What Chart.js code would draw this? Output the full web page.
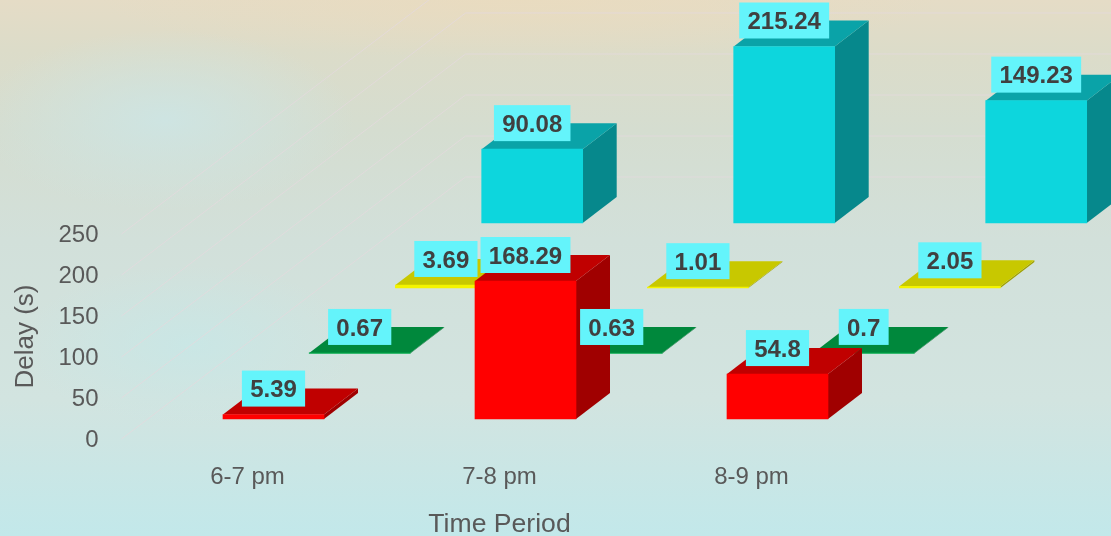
<!DOCTYPE html>
<html>
<head>
<meta charset="utf-8">
<title>Delay by time period</title>
<script src="https://cdn.jsdelivr.net/npm/chart.js@4"></script>
<style>
    html, body {
        margin: 0;
        padding: 0;
        overflow: hidden;
    }
    body {
        width: 1111px;
        height: 536px;
        background:
            radial-gradient(ellipse 190px 90px at 165px 120px, rgba(205, 229, 228, 0.9), rgba(205, 229, 228, 0)),
            radial-gradient(ellipse 170px 80px at 190px 345px, rgba(198, 232, 232, 0.7), rgba(198, 232, 232, 0)),
            radial-gradient(ellipse 420px 60px at 520px 0px, rgba(234, 219, 190, 0.8), rgba(234, 219, 190, 0)),
            linear-gradient(to bottom, #e5dcc6 0px, #dcdcc9 50px, #d5ddd0 130px, #d2e0da 240px, #d2e4e0 400px, #c2e8ea 536px);
    }
    canvas {
        display: block;
    }
</style>
</head>
<body>
<canvas id="delayChart" width="1111" height="536"></canvas>
<script>
const periods = ['6-7 pm', '7-8 pm', '8-9 pm'];
const redDelay = [5.39, 168.29, 54.8];
const greenDelay = [0.67, 0.63, 0.7];
const yellowDelay = [3.69, 1.01, 2.05];
const cyanDelay = [90.08, 215.24, 149.23];
const delayTicks = [0, 50, 100, 150, 200, 250];

// how far each row of bars sits back from the axis, in pixels
const rowShift = [
    {dx: 26, dy: -20},
    {dx: 112.2, dy: -85.5},
    {dx: 198.4, dy: -151},
    {dx: 284.7, dy: -216}
];
const barDepth = {dx: 34, dy: -26};
const wallShift = {dx: 344, dy: -262};

const FONT = '"Liberation Sans", Arial, sans-serif';
const LABEL_BOX = '#64f4fb';
const LABEL_TEXT = '#404040';
const AXIS_TEXT = '#595959';

function drawFace(ctx, color, points) {
    ctx.fillStyle = color;
    ctx.beginPath();
    ctx.moveTo(points[0][0], points[0][1]);
    for (let i = 1; i < points.length; i++) {
        ctx.lineTo(points[i][0], points[i][1]);
    }
    ctx.closePath();
    ctx.fill();
}

// diagonal floor lines and the back wall lines, one for each y tick
const wallGrid = {
    id: 'wallGrid',
    beforeDatasetsDraw(chart) {
        const ctx = chart.ctx;
        const y = chart.scales.y;
        ctx.save();
        ctx.strokeStyle = 'rgba(228, 218, 222, 0.75)';
        ctx.lineWidth = 1;
        delayTicks.forEach(function (tick) {
            const py = y.getPixelForValue(tick);
            ctx.beginPath();
            ctx.moveTo(y.right, py);
            ctx.lineTo(y.right + wallShift.dx, py + wallShift.dy);
            ctx.lineTo(chart.width, py + wallShift.dy);
            ctx.stroke();
        });
        ctx.restore();
    }
};

// moves each dataset into its row and adds the top and side of every bar
const bars3d = {
    id: 'bars3d',
    beforeDatasetDraw(chart, args) {
        const ctx = chart.ctx;
        const shift = rowShift[args.index];
        const set = chart.data.datasets[args.index];
        ctx.save();
        ctx.translate(shift.dx, shift.dy);
        args.meta.data.forEach(function (bar) {
            const left = bar.x - bar.width / 2;
            const right = bar.x + bar.width / 2;
            const dx = barDepth.dx;
            const dy = barDepth.dy;
            drawFace(ctx, set.sideColor, [
                [right, bar.y], [right + dx, bar.y + dy],
                [right + dx, bar.base + dy], [right, bar.base]
            ]);
            drawFace(ctx, set.topColor, [
                [left, bar.y], [left + dx, bar.y + dy],
                [right + dx, bar.y + dy], [right, bar.y]
            ]);
        });
    },
    afterDatasetDraw(chart) {
        chart.ctx.restore();
    },
    afterDatasetsDraw(chart) {
        const ctx = chart.ctx;
        ctx.save();
        ctx.font = 'bold 24px ' + FONT;
        ctx.textAlign = 'center';
        ctx.textBaseline = 'middle';
        chart.data.datasets.forEach(function (set, index) {
            const shift = rowShift[index];
            chart.getDatasetMeta(index).data.forEach(function (bar, i) {
                const text = String(set.data[i]);
                const cx = bar.x + shift.dx;
                const cy = bar.y + shift.dy - 26;
                const w = ctx.measureText(text).width + 16.5;
                ctx.fillStyle = LABEL_BOX;
                ctx.fillRect(cx - w / 2, cy - 18, w, 36);
                ctx.fillStyle = LABEL_TEXT;
                ctx.fillText(text, cx, cy + 2);
            });
        });
        ctx.restore();
    }
};

new Chart(document.getElementById('delayChart'), {
    type: 'bar',
    data: {
        labels: periods,
        datasets: [
            {data: redDelay, backgroundColor: '#ff0000', topColor: '#c00000', sideColor: '#a00000'},
            {data: greenDelay, backgroundColor: '#00a848', topColor: '#00883c', sideColor: '#006a2e'},
            {data: yellowDelay, backgroundColor: '#f4f400', topColor: '#c8c800', sideColor: '#a0a000'},
            {data: cyanDelay, backgroundColor: '#0dd6dd', topColor: '#0aa3a8', sideColor: '#06888c'}
        ]
    },
    options: {
        responsive: false,
        animation: false,
        layout: {
            padding: {top: 234, right: 233.5, left: 0, bottom: 0}
        },
        datasets: {
            bar: {
                grouped: false,
                barThickness: 101,
                borderWidth: 0,
                clip: false
            }
        },
        plugins: {
            legend: {display: false},
            tooltip: {enabled: false}
        },
        scales: {
            x: {
                grid: {display: false, drawTicks: false},
                border: {display: false},
                afterFit(scale) {
                    scale.height = 97;
                },
                ticks: {
                    color: AXIS_TEXT,
                    font: {family: FONT, size: 24},
                    padding: 24,
                    maxRotation: 0
                },
                title: {
                    display: true,
                    text: 'Time Period',
                    color: AXIS_TEXT,
                    font: {family: FONT, size: 26.6},
                    padding: {top: 0, bottom: -5}
                }
            },
            y: {
                min: 0,
                max: 250,
                grid: {display: false, drawTicks: false},
                border: {display: false},
                afterFit(scale) {
                    scale.width = 121.5;
                },
                ticks: {
                    stepSize: 50,
                    color: AXIS_TEXT,
                    font: {family: FONT, size: 24},
                    padding: 23,
                    labelOffset: 1.5
                },
                title: {
                    display: true,
                    text: 'Delay (s)',
                    color: AXIS_TEXT,
                    font: {family: FONT, size: 26},
                    padding: {top: 10, bottom: 0}
                }
            }
        }
    },
    plugins: [wallGrid, bars3d]
});
</script>
</body>
</html>
